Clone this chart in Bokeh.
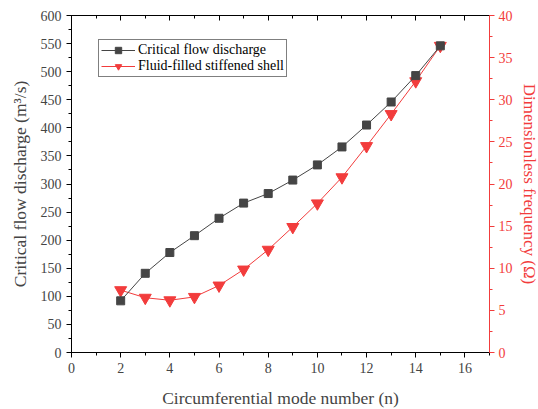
from bokeh.plotting import figure
from bokeh.models import Range1d, LinearAxis, Legend, LegendItem, SingleIntervalTicker, CustomJSTickFormatter
from bokeh.embed import file_html
from bokeh.resources import INLINE

n = [2, 3, 4, 5, 6, 7, 8, 9, 10, 11, 12, 13, 14, 15]
discharge = [92, 141, 178, 208, 239, 266, 283, 307, 334, 366, 405, 446, 493, 546]
omega = [7.4, 6.5, 6.2, 6.6, 7.95, 9.85, 12.2, 14.9, 17.7, 20.8, 24.5, 28.3, 32.2, 36.4]

FONT = "Liberation Serif"
GRAY = "#454545"
RED = "#f23c3c"
TICKC = "#444444"

p = figure(output_backend="svg", toolbar_location=None,
           x_range=Range1d(0, 17), y_range=Range1d(0, 600),
           frame_width=418, frame_height=337,
           min_border_left=71, min_border_right=5, min_border_top=15, min_border_bottom=5)
p.grid.visible = False
p.outline_line_color = "black"
p.outline_line_width = 1
p.background_fill_color = "white"

p.extra_y_ranges = {"r": Range1d(0, 40)}

# x axis
xa = p.xaxis[0]
xa.ticker = SingleIntervalTicker(interval=2, num_minor_ticks=2)
xa.axis_label = "Circumferential mode number (n)"
xa.axis_label_text_font = FONT
xa.axis_label_text_font_style = "normal"
xa.axis_label_text_font_size = "17.5px"
xa.axis_label_standoff = 12
xa.major_label_text_font = FONT
xa.major_label_text_font_size = "14px"
xa.major_label_text_color = TICKC
xa.major_tick_in = 0
xa.major_tick_out = 5
xa.minor_tick_in = 0
xa.minor_tick_out = 3
xa.axis_line_color = "black"

# left axis
ya = p.yaxis[0]
ya.ticker = SingleIntervalTicker(interval=50, num_minor_ticks=2)
ya.axis_label = "Critical flow discharge (m³/s)"
ya.axis_label_text_font = FONT
ya.axis_label_text_font_style = "normal"
ya.axis_label_text_font_size = "17.5px"
ya.axis_label_standoff = 8
ya.major_label_text_font = FONT
ya.major_label_text_font_size = "14px"
ya.major_label_text_color = TICKC
ya.major_tick_in = 0
ya.major_tick_out = 5
ya.minor_tick_in = 0
ya.minor_tick_out = 3

# right axis
ra = LinearAxis(y_range_name="r", ticker=SingleIntervalTicker(interval=5, num_minor_ticks=2))
ra.axis_label = "Dimensionless frequency (Ω)"
ra.axis_label_text_font = FONT
ra.axis_label_text_font_style = "normal"
ra.axis_label_text_font_size = "17px"
ra.axis_label_text_color = RED
ra.axis_label_standoff = 4
ra.major_label_standoff = 4
ra.major_label_text_font = FONT
ra.major_label_text_font_size = "14px"
ra.major_label_text_color = RED
ra.axis_line_color = RED
ra.major_tick_line_color = RED
ra.minor_tick_line_color = RED
ra.major_tick_in = 0
ra.major_tick_out = 5
ra.minor_tick_in = 0
ra.minor_tick_out = 3
p.add_layout(ra, "right")

# top axis (ticks inward, no labels)
ta = LinearAxis(ticker=SingleIntervalTicker(interval=2, num_minor_ticks=2),
                formatter=CustomJSTickFormatter(code="return ''"))
ta.major_label_standoff = 0
ta.major_tick_in = 5
ta.major_tick_out = 0
ta.minor_tick_in = 3
ta.minor_tick_out = 0
p.add_layout(ta, "above")

# series
rl = p.line(n, omega, y_range_name="r", line_color=RED, line_width=1)
rm = p.scatter(n, omega, y_range_name="r", marker="inverted_triangle", size=12,
               fill_color=RED, line_color=RED)
bl = p.line(n, discharge, line_color=GRAY, line_width=1)
bm = p.scatter(n, discharge, marker="square", size=8, fill_color=GRAY, line_color=GRAY)

legend = Legend(items=[
    LegendItem(label="Critical flow discharge", renderers=[bl, bm]),
    LegendItem(label="Fluid-filled stiffened shell", renderers=[rl, rm]),
])
legend.label_text_font = FONT
legend.label_text_font_size = "14px"
legend.label_text_color = "black"
legend.border_line_color = "black"
legend.border_line_width = 1
legend.padding = 2
legend.spacing = 0
legend.margin = 0
legend.glyph_width = 34
legend.label_height = 16
legend.glyph_height = 16
legend.label_standoff = 3
legend.location = (27, 337 - 26 - 36)
p.add_layout(legend, "center")

open("out.html", "w").write(file_html(p, INLINE))
